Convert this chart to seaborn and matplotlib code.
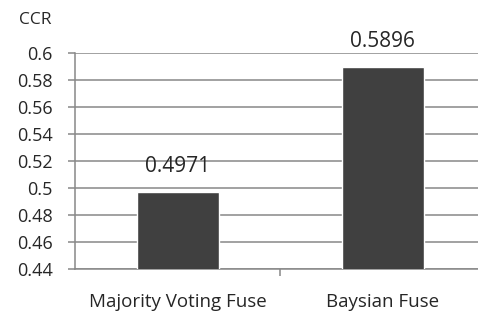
import numpy as np
import pandas as pd
import seaborn as sns
import matplotlib.pyplot as plt

categories = ['Majority Voting Fuse', 'Baysian Fuse']
ccr = [0.4971, 0.5896]
yticks = [0.44, 0.46, 0.48, 0.5, 0.52, 0.54, 0.56, 0.58, 0.6]
ytick_labels = ['0.44', '0.46', '0.48', '0.5', '0.52', '0.54', '0.56', '0.58', '0.6']

df = pd.DataFrame({'method': categories, 'ccr': ccr})

sns.set_style('white')
plt.rcParams['font.family'] = ['Open Sans', 'DejaVu Sans']

fig = plt.figure(figsize=(4.78, 3.13), dpi=100)
ax = fig.add_axes([75/478, 44/313, 410/478, 216/313])

sns.barplot(data=df, x='method', y='ccr', color='#404040', saturation=1,
            width=0.4, ax=ax, zorder=3)

ax.set_xlim(-0.5, 1.5)
ax.set_ylim(0.44, 0.6)
ax.set_yticks(yticks)
ax.set_yticklabels(ytick_labels, fontsize=13)
ax.yaxis.grid(True, color='#888888', linewidth=1.1, zorder=0)
ax.set_axisbelow(True)

for s in ['top', 'right']:
    ax.spines[s].set_visible(False)
for s in ['left', 'bottom']:
    ax.spines[s].set_color('#888888')
    ax.spines[s].set_linewidth(1.1)

ax.tick_params(axis='y', length=5, width=1.1, color='#888888', pad=11, left=True)
ax.tick_params(axis='x', which='major', length=0, pad=17.5, labelsize=13.5)
ax.set_xticks([0.5], minor=True)
ax.tick_params(axis='x', which='minor', length=5, width=1.1, color='#888888', bottom=True)

ax.set_xlabel('')
ax.set_ylabel('')

for i, v in enumerate(ccr):
    ax.annotate(f'{v:.4f}', xy=(i, v), xytext=(0, 11), textcoords='offset points',
                ha='center', va='bottom', fontsize=15)

fig.text(35/478, 1 - 20/313, 'CCR', ha='center', va='center', fontsize=12.5)

fig.savefig('out.png', dpi=100)
